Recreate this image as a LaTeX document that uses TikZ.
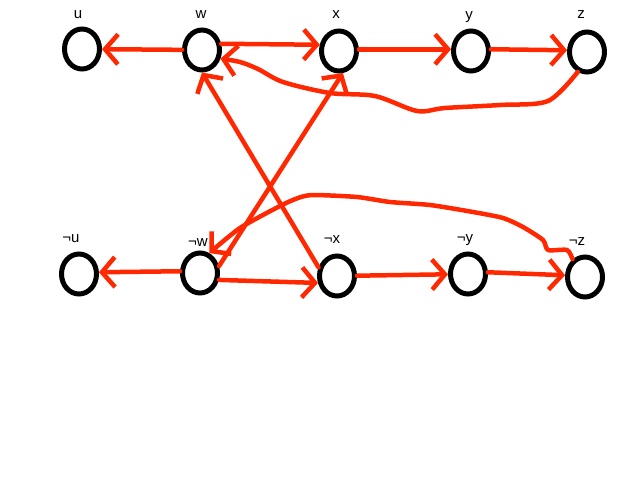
\documentclass[tikz,border=0pt]{standalone}
\usepackage{fontspec}
\setmainfont{Liberation Sans}
\usetikzlibrary{arrows.meta,shapes.geometric}
\definecolor{edgered}{RGB}{255,40,0}
\tikzset{
  vert/.style={ellipse, draw=black, line width=5pt, minimum width=35pt, minimum height=40pt, inner sep=0pt},
  lbl/.style={anchor=base, inner sep=0pt, font=\fontsize{15}{17}\selectfont},
  conn/.style={draw=edgered, line width=4.5pt, line cap=round, line join=round,
    -{Straight Barb[length=13pt,width=30pt,line width=4.5pt]}},
}
\begin{document}
\begin{tikzpicture}[x=1pt,y=-1pt]
\fill[white] (0,0) rectangle (640,480);
\useasboundingbox (0,0) rectangle (640,480);
% top row
\node[vert] (u) at (82,49) {};
\node[vert] (w) at (202,50) {};
\node[vert] (x) at (339,51) {};
\node[vert] (y) at (471,51) {};
\node[vert] (z) at (587,52) {};
% bottom row
\node[vert] (nu) at (79,274) {};
\node[vert] (nw) at (200,273) {};
\node[vert] (nx) at (337,276) {};
\node[vert] (ny) at (468,274) {};
\node[vert] (nz) at (585,277) {};
% labels
\node[lbl] (lu) at (78,18) {u};
\node[lbl] (lw) at (201,18) {w};
\node[lbl] (lx) at (336,18) {x};
\node[lbl] (ly) at (469,19) {y};
\node[lbl] (lz) at (581,18) {z};
\node[lbl] (lnu) at (71,242) {¬u};
\node[lbl] (lnw) at (198,246) {¬w};
\node[lbl] (lnx) at (332,243) {¬x};
\node[lbl] (lny) at (465,242) {¬y};
\node[lbl] (lnz) at (577,245) {¬z};
% top edges
\draw[conn] (w) -- (u);
\draw[conn] (w.18) -- (x.162);
\draw[conn] (x.5) -- (y.175);
\draw[conn] (y.5) -- (z.175);
% bottom edges
\draw[conn] (nw.175) -- (nu.5);
\draw[conn] (nw.-20) -- (nx.200);
\draw[conn] (nx) -- (ny);
\draw[conn] (ny.5) -- (nz.175);
% crossing edges
\draw[conn] (nx.155) -- (w.south);
\draw[conn] (nw.20) -- (x.-80);
% curved edges
\draw[conn] plot[smooth, tension=0.5] coordinates {(z.-115) (548,101) (500,105) (445,108) (417,111) (375,96) (330,93) (283,82) (258,69) (240,62) (w.-25)};
\draw[conn] plot[smooth, tension=0.4] coordinates {(nz.125) (567,250) (548,250) (543,240) (523,227) (503,218) (473,212) (430,205) (390,202) (357,197) (313,195) (298,198) (280,206) (240,228) (nw.65)};
\end{tikzpicture}
\end{document}
